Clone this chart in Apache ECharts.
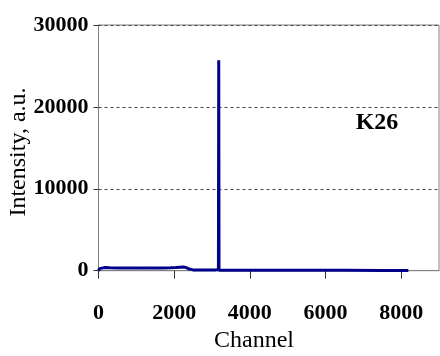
<!DOCTYPE html>
<html>
<head>
<meta charset="utf-8">
<script src="https://cdn.jsdelivr.net/npm/echarts@6/dist/echarts.min.js"></script>
<style>html,body{margin:0;padding:0;background:#fff;}#c{width:440px;height:356px;}</style>
</head>
<body>
<div id="c"></div>
<script>
var xTicks = [0, 2000, 4000, 6000, 8000];
var yTicks = [0, 10000, 20000, 30000];
var channels = [0, 30, 60, 150, 300, 500, 700, 900, 1100, 1300, 1500, 1700, 1900, 2050, 2150, 2250, 2320, 2400, 2500, 2700, 2850, 2890, 2950, 3100, 3170, 3178, 3186, 3200, 3500, 4500, 5500, 6500, 7500, 8190];
var intensity = [0, 250, 400, 380, 350, 330, 320, 340, 330, 320, 330, 340, 350, 380, 420, 460, 380, 200, 100, 80, 90, 220, 90, 100, 150, 25700, 60, 50, 50, 45, 40, 40, 35, 30];
var seriesName = 'K26';

var data = channels.map(function (c, i) { return [c, intensity[i]]; });
var serif = "'Liberation Serif', 'Times New Roman', serif";
var gray = '#808080';
function plain(v) { return String(v); }

var chart = echarts.init(document.getElementById('c'), null, {renderer: 'canvas'});
chart.setOption({
  animation: false,
  backgroundColor: '#fff',
  grid: {left: 98.5, right: 1, top: 25, bottom: 85.3, show: true, borderColor: gray, borderWidth: 1, backgroundColor: 'transparent'},
  xAxis: {
    type: 'value', min: 0, max: 9000, interval: 2000,
    axisLine: {show: true, lineStyle: {color: gray, width: 1}},
    axisTick: {show: true, inside: false, length: 8, lineStyle: {color: '#333', width: 1}, customValues: xTicks},
    axisLabel: {color: '#000', fontFamily: serif, fontWeight: 'bold', fontSize: 22, margin: 32, customValues: xTicks, formatter: plain},
    splitLine: {show: false}
  },
  yAxis: {
    type: 'value', min: 0, max: 30000, interval: 10000,
    axisLine: {show: true, lineStyle: {color: gray, width: 1}},
    axisTick: {show: true, inside: false, length: 5, lineStyle: {color: '#333', width: 1}},
    axisLabel: {color: '#000', fontFamily: serif, fontWeight: 'bold', fontSize: 22, margin: 10, customValues: yTicks, formatter: plain},
    splitLine: {show: true, lineStyle: {color: '#444', type: [3, 3], width: 1}}
  },
  series: [{
    name: seriesName, type: 'line', data: data, showSymbol: false, smooth: false,
    lineStyle: {color: '#00008b', width: 3}, z: 3
  }],
  graphic: [
    {type: 'text', x: 19, y: 152, rotation: Math.PI / 2, style: {text: 'Intensity, a.u.', fill: '#000', font: '24px ' + serif, textAlign: 'center', textVerticalAlign: 'middle'}},
    {type: 'text', x: 254, y: 341, style: {text: 'Channel', fill: '#000', font: '24px ' + serif, textAlign: 'center', textVerticalAlign: 'middle'}},
    {type: 'text', x: 377, y: 123, style: {text: seriesName, fill: '#000', font: 'bold 24px ' + serif, textAlign: 'center', textVerticalAlign: 'middle'}}
  ]
});
</script>
</body>
</html>
